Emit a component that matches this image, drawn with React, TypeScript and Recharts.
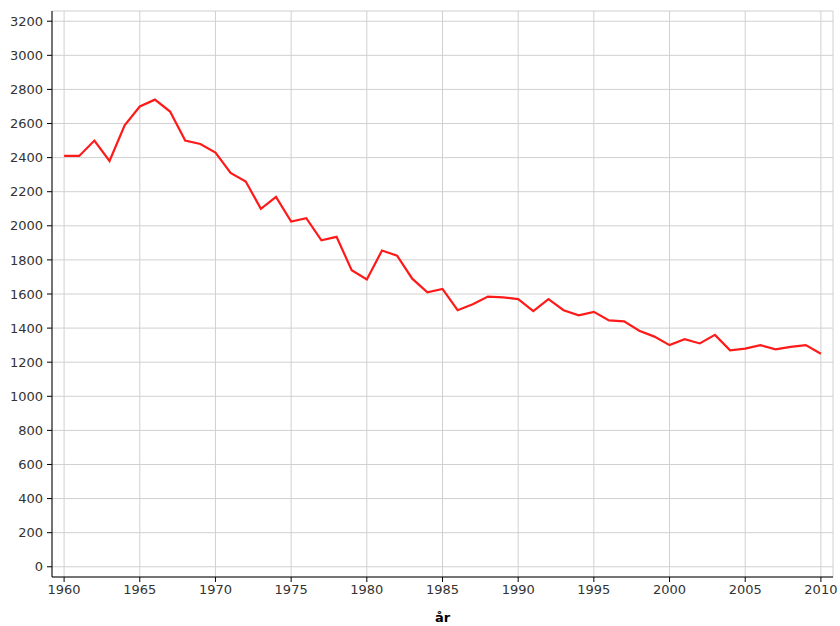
import React from 'react';
import { LineChart, Line, XAxis, YAxis, CartesianGrid } from 'recharts';

const years: number[] = [
  1960, 1961, 1962, 1963, 1964, 1965, 1966, 1967, 1968, 1969,
  1970, 1971, 1972, 1973, 1974, 1975, 1976, 1977, 1978, 1979,
  1980, 1981, 1982, 1983, 1984, 1985, 1986, 1987, 1988, 1989,
  1990, 1991, 1992, 1993, 1994, 1995, 1996, 1997, 1998, 1999,
  2000, 2001, 2002, 2003, 2004, 2005, 2006, 2007, 2008, 2009, 2010,
];

const values: number[] = [
  2410, 2410, 2500, 2380, 2590, 2700, 2740, 2670, 2500, 2480,
  2430, 2310, 2260, 2100, 2170, 2025, 2045, 1915, 1935, 1740,
  1685, 1855, 1825, 1690, 1610, 1630, 1505, 1540, 1585, 1580,
  1570, 1500, 1570, 1505, 1475, 1495, 1445, 1440, 1385, 1350,
  1300, 1335, 1310, 1360, 1270, 1280, 1300, 1275, 1290, 1300, 1250,
];

const xTicks: number[] = [1960, 1965, 1970, 1975, 1980, 1985, 1990, 1995, 2000, 2005, 2010];
const yTicks: number[] = [0, 200, 400, 600, 800, 1000, 1200, 1400, 1600, 1800, 2000, 2200, 2400, 2600, 2800, 3000, 3200];

const xLabel = 'år';

const data = years.map((y, i) => ({ year: y, value: values[i] }));

const font = '"DejaVu Sans", Verdana, sans-serif';
const tickStyle = { fontSize: 13, fill: '#333', fontFamily: font };

export default function App() {
  return (
    <div style={{ position: 'absolute', left: 0, top: 0 }}>
      <LineChart
        width={840}
        height={626}
        data={data}
        margin={{ top: 11, right: 7, bottom: 4, left: 7 }}
        style={{ background: '#fff' }}
      >
        <CartesianGrid stroke="#d0d0d0" strokeWidth={1} xAxisId="main" yAxisId="main" />
        <XAxis
          xAxisId="main"
          dataKey="year"
          type="number"
          domain={[1959.2, 2010.8]}
          ticks={xTicks}
          interval={0}
          allowDataOverflow
          height={45}
          tickSize={5}
          tickMargin={3}
          tick={tickStyle}
          stroke="#000"
          tickLine={{ stroke: '#000' }}
          label={{ value: xLabel, position: 'insideBottom', offset: 0, style: { fontSize: 13, fontWeight: 'bold', fill: '#000', fontFamily: font } }}
        />
        <XAxis xAxisId="top" orientation="top" height={0} tick={false} tickLine={false} stroke="#000" dataKey="year" type="number" domain={[1959.2, 2010.8]} allowDataOverflow />
        <YAxis
          yAxisId="main"
          type="number"
          domain={[-60, 3260]}
          ticks={yTicks}
          interval={0}
          allowDataOverflow
          width={45}
          tickSize={5}
          tickMargin={4}
          tick={tickStyle}
          stroke="#000"
          tickLine={{ stroke: '#000' }}
        />
        <YAxis yAxisId="right" orientation="right" width={0} tick={false} tickLine={false} stroke="#000" domain={[-60, 3260]} allowDataOverflow />
        <Line
          xAxisId="main"
          yAxisId="main"
          type="linear"
          dataKey="value"
          stroke="#ff1a1a"
          strokeWidth={2.2}
          dot={false}
          isAnimationActive={false}
        />
      </LineChart>
    </div>
  );
}
